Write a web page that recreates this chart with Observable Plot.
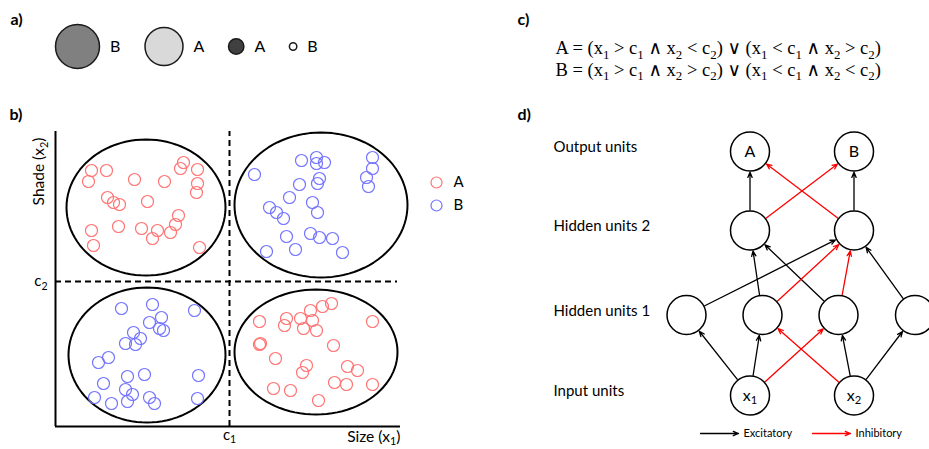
<!DOCTYPE html>
<html><head><meta charset="utf-8">
<script src="https://cdn.jsdelivr.net/npm/d3@7"></script>
<script src="https://cdn.jsdelivr.net/npm/@observablehq/plot@0.6"></script>
<style>
body{margin:0;background:#fff;}
#fig{position:relative;width:929px;height:449px;overflow:hidden;}
#fig svg{position:absolute;left:0;top:0;overflow:visible;}
</style></head><body><div id="fig"></div>
<script>
// ---------------- DATA ----------------
// Panel a: example stimuli
const stimClass = ["B", "A", "A", "B"];
const stimSize = [22, 19, 7.7, 3.7];       // size (x1)
const stimShade = [0.5, 0.85, 0.25, 1.0];  // shade (x2), 0 = black, 1 = white

// Panel b: stimuli [size x1, shade x2]
const upperLeftA = [[36,256],[51,256],[33,245],[128,264],[125,258],[142,257],[79,247],[109,245],[142,243],[141,234],[52,229],[58,224],[64,222],[92,225],[123,211],[120,202],[115,194],[102,196],[97,188],[86,198],[63,200],[36,196],[38,181],[144,179]];
const upperRightB = [[246,266],[261,269],[261,263],[269,264],[317,269],[317,258],[311,249],[313,240],[199,252],[244,242],[264,248],[262,243],[234,229],[214,219],[221,214],[228,208],[257,224],[262,214],[231,190],[255,193],[264,189],[277,188],[211,175],[240,177],[287,174]];
const lowerLeftB = [[66,118],[97,122],[139,116],[106,109],[94,104],[104,98],[108,96],[78,94],[85,88],[70,83],[80,82],[53,69],[43,64],[72,50],[89,52],[143,51],[48,43],[70,37],[77,32],[39,29],[94,29],[142,28],[56,23],[72,25],[99,23]];
const lowerRightA = [[204,105],[231,108],[229,101],[245,108],[255,116],[267,120],[276,123],[257,106],[248,98],[261,96],[317,105],[205,83],[204,82],[278,81],[220,68],[251,61],[247,54],[292,60],[302,56],[218,38],[235,36],[279,44],[291,42],[317,42],[263,26]];
const c1 = 174, c2 = 145;
const classes = ["A", "B"];
const xLabel = "Size (x₁)", yLabel = "Shade (x₂)";

// Panel c: rules
const rules = [
  "A = (x₁ > c₁ ∧ x₂ < c₂) ∨ (x₁ < c₁ ∧ x₂ > c₂)",
  "B = (x₁ > c₁ ∧ x₂ > c₂) ∨ (x₁ < c₁ ∧ x₂ < c₂)"
];

// Panel d: network
const layers = ["Output units", "Hidden units 2", "Hidden units 1", "Input units"];
const nodeIds = ["A","B","h2a","h2b","h1a","h1b","h1c","h1d","x1","x2"];
const nodeLayer = ["Output units","Output units","Hidden units 2","Hidden units 2","Hidden units 1","Hidden units 1","Hidden units 1","Hidden units 1","Input units","Input units"];
const nodeText = ["A","B","","","","","","","x₁","x₂"];
const edgeFrom = ["h2a","h2b","h2b","h2a","h1b","h1c","h1a","h1b","h1c","h1d","x1","x1","x1","x2","x2","x2"];
const edgeTo   = ["A","B","A","B","h2a","h2a","h2b","h2b","h2b","h2b","h1a","h1b","h1c","h1b","h1c","h1d"];
const edgeType = ["Excitatory","Excitatory","Inhibitory","Inhibitory","Excitatory","Excitatory","Excitatory","Inhibitory","Inhibitory","Excitatory","Excitatory","Excitatory","Inhibitory","Inhibitory","Excitatory","Excitatory"];
const edgeTypes = ["Excitatory", "Inhibitory"];

// ---------------- LAYOUT ----------------
const W = 929, H = 449;
const FONT = "Lato, 'Open Sans', sans-serif";
const fig = document.getElementById("fig");

// ---- Panel b ----
const points = [
  ...upperLeftA.map(([s, h]) => ({size: s, shade: h, cls: "A"})),
  ...upperRightB.map(([s, h]) => ({size: s, shade: h, cls: "B"})),
  ...lowerLeftB.map(([s, h]) => ({size: s, shade: h, cls: "B"})),
  ...lowerRightA.map(([s, h]) => ({size: s, shade: h, cls: "A"}))
];
const clusters = [
  {cx: 90.5, cy: 219, rx: 79.5, ry: 68},
  {cx: 265.5, cy: 221.5, rx: 86.5, ry: 72.5},
  {cx: 91.5, cy: 71.5, rx: 78.5, ry: 67.5},
  {cx: 260.5, cy: 74.5, rx: 81.5, ry: 62.5}
];
const ellipsePts = clusters.flatMap((c, i) => d3.range(0, 96).map(k => {
  const t = k / 96 * 2 * Math.PI;
  return {i, x: c.cx + c.rx * Math.cos(t), y: c.cy + c.ry * Math.sin(t)};
}));

const plotB = Plot.plot({
  width: W, height: H,
  marginLeft: 55, marginRight: W - 400, marginTop: 131, marginBottom: H - 426,
  x: {domain: [0, 345], axis: null},
  y: {domain: [0, 295], axis: null},
  color: {domain: classes, range: ["#ff7373", "#7373ff"]},
  style: {fontFamily: FONT, fontSize: "15px", background: "transparent", color: "black"},
  marks: [
    Plot.line(ellipsePts, {x: "x", y: "y", z: "i", curve: "linear-closed", stroke: "black", strokeWidth: 2}),
    Plot.dot(points, {x: "size", y: "shade", stroke: "cls", r: 6, strokeWidth: 1.2}),
    Plot.ruleX([c1], {y1: 0, y2: 295, stroke: "black", strokeWidth: 2, strokeDasharray: "6,4"}),
    Plot.ruleY([c2], {x1: 0, x2: 342, stroke: "black", strokeWidth: 2, strokeDasharray: "6,4"}),
    Plot.ruleX([0], {stroke: "black", strokeWidth: 2}),
    Plot.ruleY([0], {stroke: "black", strokeWidth: 2}),
    Plot.axisX([c1], {tickSize: 0, tickPadding: 3, tickFormat: () => "c₁", label: null, fontSize: 15}),
    Plot.axisY([c2], {tickSize: 0, tickPadding: 8, tickFormat: () => "c₂", label: null, fontSize: 15}),
    Plot.text([xLabel], {x: 345, y: 0, textAnchor: "end", lineAnchor: "top", dy: 4, fontSize: 15.5}),
    Plot.text([yLabel], {x: -16, y: 255, rotate: -90, textAnchor: "middle", lineAnchor: "middle", fontSize: 15.5}),
    Plot.dot(classes, {x: 381, y: d => d === "A" ? 244 : 221, stroke: d => d, r: 5.5, strokeWidth: 1.2}),
    Plot.text(classes, {x: 398, y: d => d === "A" ? 244 : 221, text: d => d, textAnchor: "start", fontSize: 15})
  ]
});
fig.appendChild(plotB);

// ---- Panels a, c, d (diagram layout, identity scales) ----
const stim = [];
let cursor = 55;
stimClass.forEach((c, i) => {
  const r = stimSize[i];
  const cx = cursor + r;
  const lx = cx + r + 10.5;
  stim.push({cls: c, r, shade: stimShade[i], cx, lx});
  cursor = lx + 35;
});

const layerY = {"Output units": 151, "Hidden units 2": 230, "Hidden units 1": 314.5, "Input units": 395};
const nodeX = {A: 749.5, B: 853.5, h2a: 749.5, h2b: 853.5, h1a: 686, h1b: 762, h1c: 838, h1d: 914.5, x1: 749.5, x2: 853.5};
const nodes = nodeIds.map((id, i) => ({id, layer: nodeLayer[i], text: nodeText[i], x: nodeX[id], y: layerY[nodeLayer[i]]}));
const byId = Object.fromEntries(nodes.map(n => [n.id, n]));
const edges = edgeFrom.map((f, i) => ({from: byId[f], to: byId[edgeTo[i]], type: edgeType[i]}));
const edgeColor = {Excitatory: "black", Inhibitory: "#ff0000"};
const legendX = {Excitatory: [700, 738, 743], Inhibitory: [812, 850, 855]};
const R = 19.5;

const arrowOpts = (t) => ({
  x1: d => d.from.x, y1: d => d.from.y, x2: d => d.to.x, y2: d => d.to.y,
  stroke: edgeColor[t], strokeWidth: 1.3, headLength: 6.5, headAngle: 45,
  insetStart: R + 1, insetEnd: R + 1.2
});

const plotL = Plot.plot({
  width: W, height: H, margin: 0,
  x: {type: "identity", axis: null}, y: {type: "identity", axis: null}, r: {type: "identity"},
  color: {type: "linear", domain: [0, 1], range: ["black", "white"]},
  style: {fontFamily: FONT, fontSize: "15px", background: "transparent", color: "black"},
  marks: [
    Plot.text(["a)", "b)", "c)", "d)"], {x: [10, 9, 517, 517], y: [19, 114, 19, 114], textAnchor: "start", fontWeight: "bold", fontSize: 16}),
    Plot.dot(stim, {x: "cx", y: 46, r: "r", fill: "shade", stroke: "#1a1a1a", strokeWidth: 1.5}),
    Plot.text(stim, {x: "lx", y: 46, text: "cls", textAnchor: "start", fontSize: 16}),
    Plot.text(rules, {x: 555, y: (d, i) => 48 + i * 21.5, textAnchor: "start", fontFamily: "'Liberation Serif', 'DejaVu Sans', serif", fontSize: 18.5}),
    Plot.text(layers, {x: 553, y: d => layerY[d] - 4, textAnchor: "start", fontSize: 15}),
    Plot.arrow(edges.filter(e => e.type === "Excitatory"), arrowOpts("Excitatory")),
    Plot.arrow(edges.filter(e => e.type === "Inhibitory"), arrowOpts("Inhibitory")),
    Plot.dot(nodes, {x: "x", y: "y", r: R, fill: "white", stroke: "black", strokeWidth: 1.5}),
    Plot.text(nodes, {x: "x", y: "y", text: "text", fontSize: 16}),
    Plot.arrow(edgeTypes, {x1: d => legendX[d][0], x2: d => legendX[d][1], y1: 433, y2: 433, stroke: d => edgeColor[d], strokeWidth: 1.3, headLength: 6.5, headAngle: 45}),
    Plot.text(edgeTypes, {x: d => legendX[d][2], y: 433, text: d => d, textAnchor: "start", fontSize: 11})
  ]
});
fig.appendChild(plotL);

// Render Unicode subscripts as real subscript tspans (keeps the text as text)
const SUB = {"₁": "1", "₂": "2"};
fig.querySelectorAll("text").forEach(el => {
  const s = el.textContent;
  if (!/[₁₂]/.test(s) || el.querySelector("tspan")) return;
  const fs = parseFloat(getComputedStyle(el).fontSize) || 15;
  const shift = fs * 0.22;
  el.textContent = "";
  let down = false;
  s.split(/([₁₂])/).filter(p => p !== "").forEach(p => {
    const ts = document.createElementNS("http://www.w3.org/2000/svg", "tspan");
    if (SUB[p]) {
      ts.textContent = SUB[p];
      ts.setAttribute("font-size", (fs * 0.7).toFixed(2));
      if (!down) { ts.setAttribute("dy", shift); down = true; }
    } else {
      ts.textContent = p;
      if (down) { ts.setAttribute("dy", -shift); down = false; }
    }
    el.appendChild(ts);
  });
});
</script>
</body></html>
